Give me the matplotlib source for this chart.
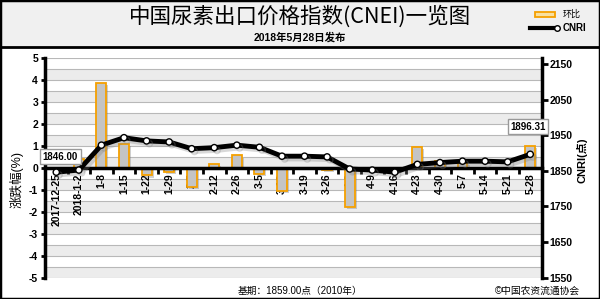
import numpy as np
import matplotlib.pyplot as plt
import matplotlib.patheffects as pe
from matplotlib.patches import Rectangle
from matplotlib.lines import Line2D

# weekly release dates
dates = ["2017-12-25", "2018-1-2", "1-8", "1-15", "1-22", "1-29", "2-5", "2-12",
         "2-26", "3-5", "3-12", "3-19", "3-26", "4-2", "4-9", "4-16", "4-23",
         "4-30", "5-7", "5-14", "5-21", "5-28"]

# 环比 (%), left axis
pct_change = [0.0, 0.4, 3.85, 1.08, -0.35, -0.2, -0.88, 0.16, 0.56, -0.3, -1.05,
              0.0, -0.1, -1.8, 0.0, 0.0, 0.95, 0.3, 0.2, 0.0, 0.0, 1.0]

# CNRI index (点), right axis
cnri = [1846.00, 1852, 1922, 1943, 1934, 1931, 1912, 1915, 1922, 1916, 1891,
        1891, 1889, 1855, 1852, 1846, 1868, 1873, 1877, 1877, 1875, 1896.31]

left_ticks = list(range(-5, 6))
right_ticks = list(range(1550, 2151, 100))

plt.rcParams['font.family'] = ['Liberation Sans', 'Noto Sans CJK SC', 'DejaVu Sans']

W, H = 600, 299


def fx(px):
    return px / W


def fy(py):
    return 1 - py / H


fig = plt.figure(figsize=(6, 2.99), dpi=100)
fig.patch.set_facecolor('white')

# header band + frame
fig.add_artist(Rectangle((0, fy(47)), 1, 1 - fy(47), transform=fig.transFigure,
                         fc='#f0f0f0', ec='none', zorder=0))
fig.add_artist(Line2D([0, 1], [fy(47), fy(47)], transform=fig.transFigure,
                      color='black', lw=2))
fig.add_artist(Rectangle((0, 0), 1, 1, transform=fig.transFigure, fill=False,
                         ec='black', lw=2.5))

ax = fig.add_axes([fx(45), fy(277.5), (541.5 - 45) / W, (277.5 - 58) / H])
ax.set_facecolor('white')
x = np.arange(len(dates))

# alternating bands and grid lines every 0.5
for k in range(10):
    ax.axhspan(-5 + k, -4.5 + k, color='#ececec', zorder=0, lw=0)
for v in np.arange(-5, 5.01, 0.5):
    ax.axhline(v, color='#b8b8b8', lw=0.8, zorder=0.5)

ax.bar(x, pct_change, width=0.44, color='#c4c4c4', edgecolor='#f5a000', lw=1.3,
       zorder=2, path_effects=[pe.SimplePatchShadow(offset=(1.5, -1.5), shadow_rgbFace='#777777', alpha=0.35),
                               pe.Normal()])

ax.set_xlim(-0.5, 21.5)
ax.set_ylim(-5, 5)
ax.spines['top'].set_visible(False)
ax.spines['right'].set_visible(False)
ax.spines['left'].set_linewidth(2.5)
ax.spines['bottom'].set_position(('data', 0))
ax.spines['bottom'].set_linewidth(2.5)
ax.spines['bottom'].set_zorder(3)

ax.set_xticks(np.arange(0.5, 21, 1))
ax.tick_params(axis='x', which='major', length=4, width=2, labelbottom=False)
ax.set_xticks(x, minor=True)
ax.set_xticklabels(dates, minor=True, rotation=90, fontsize=7.5, fontweight='bold')
ax.tick_params(axis='x', which='minor', length=0, pad=4)

ax.set_yticks(left_ticks)
ax.set_yticklabels([str(t) for t in left_ticks], fontsize=7.5, fontweight='bold')
ax.tick_params(axis='y', length=3, width=2, pad=2)

ax2 = ax.twinx()
ax2.set_ylim(1550, 2167)
for s in ['top', 'left', 'bottom']:
    ax2.spines[s].set_visible(False)
ax2.spines['right'].set_linewidth(2.5)
ax2.set_yticks(right_ticks)
ax2.set_yticklabels([str(t) for t in right_ticks], fontsize=7.5, fontweight='bold')
ax2.tick_params(axis='y', length=4, width=2, pad=2)

ax2.plot(x, cnri, color='black', lw=3.5, marker='o', ms=4.5, mfc='white', mec='black',
         mew=1, zorder=5,
         path_effects=[pe.SimpleLineShadow(offset=(2, -2), alpha=0.3, shadow_color='gray'),
                       pe.Normal()])

box = dict(boxstyle='square,pad=0.25', fc='white', ec='#999999', lw=1)
ax2.annotate(f"{cnri[0]:.2f}", (x[0], cnri[0]), xytext=(3, 11), textcoords='offset points',
             ha='center', va='center', fontsize=7, fontweight='bold', bbox=box, zorder=6)
ax2.annotate(f"{cnri[-1]:.2f}", (x[-1], cnri[-1]), xytext=(-1.5, 20), textcoords='offset points',
             ha='center', va='center', fontsize=7, fontweight='bold', bbox=box, zorder=6)

# titles
fig.text(0.5, fy(17), "中国尿素出口价格指数(CNEI)一览图", ha='center', va='center',
         fontsize=15.5, family=['Noto Sans CJK SC'])
fig.text(0.5, fy(37), "2018年5月28日发布", ha='center', va='center', fontsize=7.5,
         fontweight='bold')

# axis labels
fig.text(fx(17), fy(180), "涨跌幅(%)", rotation=90, ha='center', va='center', fontsize=9)
fig.text(fx(582), fy(160), "CNRI(点)", rotation=90, ha='center', va='center', fontsize=8,
         fontweight='bold')

# legend
fig.add_artist(Rectangle((fx(535), fy(17)), 20 / W, 5 / H, transform=fig.transFigure,
                         fc='#f8e0a0', ec='#f5a000', lw=1.3))
fig.text(fx(563), fy(14), "环比", ha='left', va='center', fontsize=6.5)
fig.add_artist(Line2D([fx(530), fx(557)], [fy(28), fy(28)], transform=fig.transFigure,
                      color='black', lw=3, marker='o', markevery=[1], ms=4,
                      mfc='white', mec='black'))
fig.text(fx(563), fy(28), "CNRI", ha='left', va='center', fontsize=7, fontweight='bold')

# footer
fig.text(fx(300), fy(291), "基期：1859.00点（2010年）", ha='center', va='center', fontsize=7)
fig.text(fx(537), fy(291), "©中国农资流通协会", ha='center', va='center', fontsize=7)

fig.savefig("out.png", dpi=100)
